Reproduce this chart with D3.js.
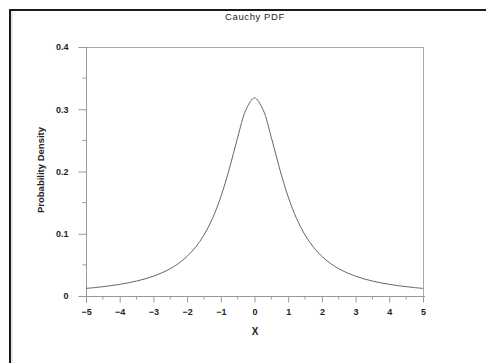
<!DOCTYPE html>
<html>
<head>
<meta charset="utf-8">
<script src="https://cdn.jsdelivr.net/npm/d3@7"></script>
<style>
  body { margin: 0; background: #fff; }
  text { font-family: "Liberation Sans", Arial, sans-serif; fill: #222; }
</style>
</head>
<body>
<svg id="chart" width="486" height="363"></svg>
<script>
  // values (density vs x)
  var xValues = [-5, -4.75, -4.5, -4.25, -4, -3.75, -3.5, -3.25, -3, -2.75, -2.5, -2.25, -2, -1.75, -1.5, -1.25, -1, -0.75, -0.5, -0.25,
                 0, 0.25, 0.5, 0.75, 1, 1.25, 1.5, 1.75, 2, 2.25, 2.5, 2.75, 3, 3.25, 3.5, 3.75, 4, 4.25, 4.5, 4.75, 5];
  var density = [0.0122, 0.0135, 0.0150, 0.0167, 0.0187, 0.0211, 0.0240, 0.0275, 0.0318, 0.0372, 0.0439, 0.0525, 0.0637, 0.0784, 0.0979, 0.1242, 0.1592, 0.2037, 0.2546, 0.2996,
                 0.3183, 0.2996, 0.2546, 0.2037, 0.1592, 0.1242, 0.0979, 0.0784, 0.0637, 0.0525, 0.0439, 0.0372, 0.0318, 0.0275, 0.0240, 0.0211, 0.0187, 0.0167, 0.0150, 0.0135, 0.0122];
  var xTicks = [-5, -4, -3, -2, -1, 0, 1, 2, 3, 4, 5];
  var yTicks = [0, 0.1, 0.2, 0.3, 0.4];
  var yTickLabels = ['0', '0.1', '0.2', '0.3', '0.4'];

  (function() {
    var svg = d3.select('#chart');
    var pLeft = 86, pRight = 423, pTop = 47, pBottom = 296;
    var axisColor = '#999';

    var x = d3.scaleLinear().domain([-5, 5]).range([pLeft, pRight]);
    var y = d3.scaleLinear().domain([0, 0.4]).range([pBottom, pTop]);

    // outer frame (cropped at right/bottom)
    svg.append('rect').attr('x', 10).attr('y', 10).attr('width', 500).attr('height', 400)
      .attr('fill', 'none').attr('stroke', '#1a1a1a').attr('stroke-width', 2);
    svg.append('line').attr('x1', 12).attr('y1', 11).attr('x2', 12).attr('y2', 363)
      .attr('stroke', '#cfcfcf').attr('stroke-width', 1);

    // plot box top and right edges
    svg.append('path')
      .attr('d', 'M' + pLeft + ',' + (pTop + 0.5) + 'H' + (pRight + 0.5) + 'V' + pBottom)
      .attr('fill', 'none').attr('stroke', '#aaa');

    // x axis
    var xAxis = svg.append('g').attr('transform', 'translate(0,' + (pBottom + 0.5) + ')')
      .call(d3.axisBottom(x).tickValues(xTicks).tickSize(6).tickPadding(6).tickSizeOuter(0));
    xAxis.append('g').selectAll('line')
      .data(d3.range(-4.5, 5, 1))
      .join('line').attr('x1', function(d) { return x(d); }).attr('x2', function(d) { return x(d); })
      .attr('y1', 0).attr('y2', 3).attr('stroke', axisColor);
    xAxis.select('.domain').attr('d', 'M' + (pLeft - 7) + ',0H' + (pRight + 2));

    // y axis
    var yAxis = svg.append('g').attr('transform', 'translate(' + (pLeft + 0.5) + ',0)')
      .call(d3.axisLeft(y).tickValues(yTicks).tickFormat(function(d, i) { return yTickLabels[i]; })
        .tickSize(8).tickPadding(10).tickSizeOuter(0));
    yAxis.append('g').selectAll('line')
      .data(d3.range(0.05, 0.4, 0.1))
      .join('line').attr('y1', function(d) { return y(d); }).attr('y2', function(d) { return y(d); })
      .attr('x1', 0).attr('x2', -4).attr('stroke', axisColor);
    yAxis.select('.domain').attr('d', 'M0,' + pTop + 'V' + (pBottom + 7));

    svg.selectAll('.domain, .tick line').attr('stroke', axisColor);
    svg.selectAll('.tick text').attr('font-size', 9).attr('font-weight', 'bold')
      .attr('font-family', '"Liberation Sans", Arial, sans-serif').attr('fill', '#333');

    // curve
    var pts = xValues.map(function(v, i) { return [v, density[i]]; });
    svg.append('path').datum(pts)
      .attr('fill', 'none').attr('stroke', '#666').attr('stroke-width', 1)
      .attr('d', d3.line().x(function(d) { return x(d[0]); }).y(function(d) { return y(d[1]); })
        .curve(d3.curveCatmullRom));

    // titles
    svg.append('text').attr('x', 255).attr('y', 20).attr('text-anchor', 'middle')
      .attr('font-size', 9.5).attr('letter-spacing', 0.6).text('Cauchy PDF');
    svg.append('text').attr('x', 255).attr('y', 335).attr('text-anchor', 'middle')
      .attr('font-size', 10).attr('font-weight', 'bold').attr('fill', '#333').text('X');
    svg.append('text').attr('transform', 'translate(44,170) rotate(-90)').attr('text-anchor', 'middle')
      .attr('font-size', 9.5).attr('font-weight', 'bold').attr('fill', '#333').text('Probability Density');
  })();
</script>
</body>
</html>
